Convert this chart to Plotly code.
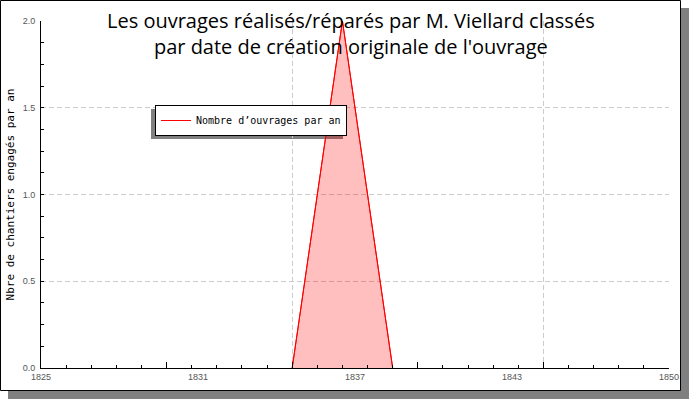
import plotly.graph_objects as go

# Data
years = [1835, 1837, 1839]
counts = [0, 2, 0]
x_label_vals = [1825, 1831.25, 1837.5, 1843.75, 1850]
x_label_text = ["1825", "1831", "1837", "1843", "1850"]
y_tick_vals = [0, 0.5, 1.0, 1.5, 2.0]
y_tick_text = ["0.0", "0.5", "1.0", "1.5", "2.0"]
series_name = "Nombre d’ouvrages par an"
title_text = "Les ouvrages réalisés/réparés par M. Viellard classés<br>par date de création originale de l'ouvrage"
y_title = "Nbre de chantiers engagés par an"

W, H = 700, 400
L, R, T, B = 41, 31, 21, 32
pw, ph = W - L - R, H - T - B

def px(x):
    return (x - L) / pw

def py(y):
    return (H - B - y) / ph

fig = go.Figure()
fig.add_trace(go.Scatter(
    x=years, y=counts, mode="lines", showlegend=False, hoverinfo="skip",
    line=dict(color="red", width=1),
    fill="tozeroy", fillcolor="rgba(255,0,0,0.25)",
    xaxis="x", yaxis="y",
))
fig.add_trace(go.Scatter(
    x=years, y=counts, mode="lines", name=series_name,
    line=dict(color="red", width=1), xaxis="x", yaxis="y",
))
# invisible helpers so overlay axes exist
for ax in ["x2", "x3"]:
    fig.add_trace(go.Scatter(x=years, y=counts, mode="lines", opacity=0,
                             showlegend=False, hoverinfo="skip", xaxis=ax, yaxis="y"))

tick_font = dict(family="Liberation Sans", size=9, color="#555")
grid_dash = "5px,3px"

fig.update_layout(
    width=W, height=H,
    margin=dict(l=L, r=R, t=T, b=B, autoexpand=False),
    paper_bgcolor="white", plot_bgcolor="rgba(0,0,0,0)",
    xaxis=dict(range=[1825, 1850], tickvals=x_label_vals, ticktext=x_label_text,
               ticks="", showgrid=False, zeroline=False, showline=True, automargin=False,
               linecolor="black", linewidth=1, tickfont=tick_font, ticklabelstandoff=0),
    xaxis2=dict(range=[1825, 1850], overlaying="x", tick0=1825, dtick=5, automargin=False,
                ticks="inside", ticklen=6, tickcolor="black", showticklabels=False,
                showgrid=False, zeroline=False, showline=False,
                minor=dict(dtick=1, ticks="inside", ticklen=3, tickcolor="black", showgrid=False)),
    xaxis3=dict(range=[1825, 1850], overlaying="x", tick0=1835, dtick=10, automargin=False,
                ticks="", showticklabels=False, showgrid=True, gridcolor="#cccccc",
                griddash=grid_dash, gridwidth=1, zeroline=False, showline=False),
    yaxis=dict(range=[0, 2], tickvals=y_tick_vals, ticktext=y_tick_text, automargin=False,
               ticks="inside", ticklen=3, tickcolor="black", showgrid=True,
               gridcolor="#cccccc", griddash=grid_dash, zeroline=False, showline=True,
               linecolor="black", linewidth=1, tickfont=tick_font, ticklabelstandoff=3,
               minor=dict(dtick=0.125, ticks="inside", ticklen=3, tickcolor="black", showgrid=False),
               title=dict(text=y_title, standoff=5,
                          font=dict(family="DejaVu Sans Mono", size=11, color="black"))),
    legend=dict(x=px(155), y=py(105), xanchor="left", yanchor="top",
                bgcolor="white", bordercolor="black", borderwidth=1,
                font=dict(family="DejaVu Sans Mono", size=10, color="black"),
                itemwidth=30),
    showlegend=True,
    annotations=[dict(text=title_text, xref="paper", yref="paper",
                      x=px(351), y=py(5), xanchor="center", yanchor="top",
                      showarrow=False, align="center",
                      font=dict(family="Open Sans", size=20, color="black"))],
    shapes=[
        dict(type="rect", xref="paper", yref="paper", layer="below",
             x0=px(8), x1=px(689), y0=py(8), y1=py(399),
             fillcolor="#808080", line=dict(width=0)),
        dict(type="rect", xref="paper", yref="paper", layer="below",
             x0=px(0.5), x1=px(680.5), y0=py(0.5), y1=py(390.5),
             fillcolor="white", line=dict(color="black", width=1)),
        dict(type="rect", xref="paper", yref="paper", layer="below",
             x0=px(151), x1=px(343), y0=py(109), y1=py(139),
             fillcolor="#808080", line=dict(width=0)),
    ],
)

fig.write_html("out.html", config={"displayModeBar": False},
               post_script="document.body.style.margin='0';")
